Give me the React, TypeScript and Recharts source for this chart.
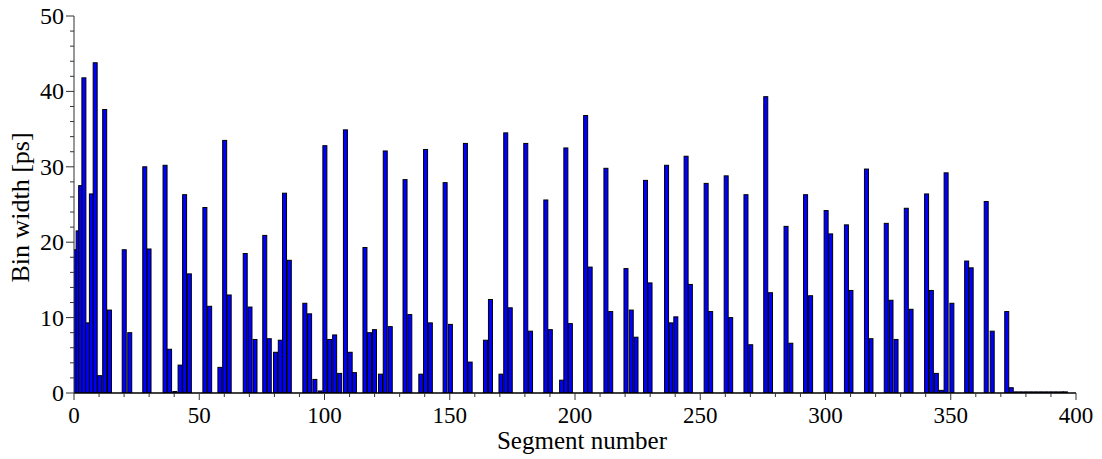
import React from "react";
import { BarChart, Bar, XAxis, YAxis } from "recharts";

const SEGMENTS = [
  0.7, 1.7, 2.7, 4.0, 5.5, 7.0, 8.5, 10.3, 12.3, 14.2,
  20.1, 22.3,
  28.3, 30.0,
  36.4, 38.2, 40.3, 42.4, 44.2, 46.1,
  52.3, 54.2,
  58.3, 60.2, 62.0,
  68.4, 70.3, 72.3,
  76.2, 78.0, 80.5, 82.4, 84.1, 86.0,
  92.2, 94.1, 96.2, 98.3, 100.2, 102.1, 104.1, 106.1, 108.4, 110.3, 112.0,
  116.2, 118.0, 120.0, 122.4, 124.3, 126.3,
  132.2, 134.1,
  138.5, 140.4, 142.3,
  148.2, 150.3,
  156.3, 158.2,
  164.3, 166.3,
  170.5, 172.4, 174.2,
  180.4, 182.3,
  188.4, 190.2,
  194.7, 196.4, 198.2,
  204.3, 206.1,
  212.4, 214.3,
  220.4, 222.5, 224.4,
  228.2, 230.0,
  236.6, 238.4, 240.3,
  244.4, 246.1,
  252.4, 254.2,
  260.4, 262.2,
  268.3, 270.2,
  276.2, 278.1,
  284.3, 286.2,
  292.1, 294.1,
  300.3, 302.1,
  308.4, 310.2,
  316.4, 318.2,
  324.3, 326.2, 328.2,
  332.3, 334.2,
  340.4, 342.3, 344.3, 346.3, 348.2, 350.5,
  356.4, 358.2,
  364.2, 366.6,
  372.4, 374.2,
  376.2, 378.2, 380.2, 382.2, 384.2, 386.2, 388.2, 390.2, 392.2, 394.2, 395.8,
];

const BIN_WIDTHS = [
  19.0, 21.5, 27.5, 41.8, 9.3, 26.4, 43.8, 2.3, 37.6, 11.0,
  19.0, 8.0,
  30.0, 19.1,
  30.2, 5.8, 0.2, 3.7, 26.3, 15.8,
  24.6, 11.5,
  3.4, 33.5, 13.0,
  18.5, 11.4, 7.1,
  20.9, 7.2, 5.4, 7.0, 26.5, 17.6,
  11.9, 10.5, 1.8, 0.27, 32.8, 7.1, 7.7, 2.6, 34.9, 5.4, 2.7,
  19.3, 8.0, 8.4, 2.5, 32.1, 8.8,
  28.3, 10.4,
  2.5, 32.3, 9.3,
  27.9, 9.1,
  33.1, 4.1,
  7.0, 12.4,
  2.5, 34.5, 11.3,
  33.1, 8.2,
  25.6, 8.4,
  1.7, 32.5, 9.2,
  36.8, 16.7,
  29.8, 10.8,
  16.5, 11.0, 7.4,
  28.2, 14.6,
  30.2, 9.3, 10.1,
  31.4, 14.4,
  27.8, 10.8,
  28.8, 10.0,
  26.3, 6.4,
  39.3, 13.3,
  22.1, 6.6,
  26.3, 12.9,
  24.2, 21.1,
  22.3, 13.6,
  29.7, 7.2,
  22.5, 12.3, 7.1,
  24.5, 11.1,
  26.4, 13.6, 2.6, 0.35, 29.2, 11.9,
  17.5, 16.6,
  25.4, 8.2,
  10.8, 0.7,
  0.15, 0.15, 0.15, 0.15, 0.15, 0.15, 0.15, 0.15, 0.15, 0.15, 0.15,
];

const X_TICKS = [
  0, 10, 20, 30, 40, 50, 60, 70, 80, 90, 100, 110, 120, 130, 140, 150, 160, 170, 180, 190,
  200, 210, 220, 230, 240, 250, 260, 270, 280, 290, 300, 310, 320, 330, 340, 350, 360, 370,
  380, 390, 400,
];
const X_MAJOR = [0, 50, 100, 150, 200, 250, 300, 350, 400];
const Y_TICKS = [
  0, 2, 4, 6, 8, 10, 12, 14, 16, 18, 20, 22, 24, 26, 28, 30, 32, 34, 36, 38, 40, 42, 44, 46,
  48, 50,
];
const Y_MAJOR = [0, 10, 20, 30, 40, 50];
const X_LABEL = "Segment number";
const Y_LABEL = "Bin width [ps]";

const data = SEGMENTS.map((s, i) => ({ segment: s, binWidth: BIN_WIDTHS[i] }));

const FONT = '"Liberation Serif", "Times New Roman", serif';
const BAR_W = 4;

const XTick = (props: any) => {
  const { x, y, payload } = props;
  const major = X_MAJOR.includes(payload.value);
  return (
    <g>
      <line x1={x} x2={x} y1={y} y2={y + (major ? 7 : 4)} stroke="#333" strokeWidth={1} />
      {major && (
        <text x={x} y={y + 30} textAnchor="middle" fontSize={23} fontFamily={FONT} fill="#000">
          {payload.value}
        </text>
      )}
    </g>
  );
};

const YTick = (props: any) => {
  const { x, y, payload } = props;
  const major = Y_MAJOR.includes(payload.value);
  return (
    <g>
      <line x1={x - (major ? 8 : 4)} x2={x} y1={y} y2={y} stroke="#333" strokeWidth={1} />
      {major && (
        <text x={x - 10} y={y + 8} textAnchor="end" fontSize={24} fontFamily={FONT} fill="#000">
          {payload.value}
        </text>
      )}
    </g>
  );
};

const BarShape = (p: any) => {
  const cx = p.x + p.width / 2;
  return (
    <rect
      x={cx - BAR_W / 2}
      y={p.y}
      width={BAR_W}
      height={Math.max(p.height, 0)}
      fill="#0000ff"
      stroke="#000"
      strokeWidth={1}
    />
  );
};

const XLabel = (p: any) => {
  const vb = p.viewBox;
  return (
    <text
      x={vb.x + vb.width / 2 + 7}
      y={vb.y + 56}
      textAnchor="middle"
      fontSize={25}
      fontFamily={FONT}
      fill="#000"
    >
      {X_LABEL}
    </text>
  );
};

const YLabel = (p: any) => {
  const vb = p.viewBox;
  const cy = vb.y + vb.height / 2 + 3;
  const cx = 29;
  return (
    <text
      x={cx}
      y={cy}
      textAnchor="middle"
      transform={`rotate(-90 ${cx} ${cy})`}
      fontSize={26}
      fontFamily={FONT}
      fill="#000"
    >
      {Y_LABEL}
    </text>
  );
};

export default function App() {
  return (
    <div style={{ position: "absolute", left: 0, top: 0, width: 1102, height: 459, background: "#fff" }}>
      <BarChart
        width={1102}
        height={459}
        data={data}
        margin={{ top: 16, right: 26, left: 0, bottom: 0 }}
      >
        <XAxis
          dataKey="segment"
          type="number"
          domain={[0, 400]}
          ticks={X_TICKS}
          interval={0}
          allowDataOverflow
          height={66}
          tickSize={0}
          tickMargin={0}
          tickLine={false}
          tick={<XTick />}
          axisLine={{ stroke: "#000", strokeWidth: 1.3 }}
          label={<XLabel />}
        />
        <YAxis
          type="number"
          domain={[0, 50]}
          ticks={Y_TICKS}
          interval={0}
          allowDataOverflow
          width={74}
          tickSize={0}
          tickMargin={0}
          tickLine={false}
          tick={<YTick />}
          axisLine={{ stroke: "#333", strokeWidth: 1 }}
          label={<YLabel />}
        />
        <Bar
          dataKey="binWidth"
          barSize={BAR_W}
          shape={<BarShape />}
          isAnimationActive={false}
        />
      </BarChart>
    </div>
  );
}
